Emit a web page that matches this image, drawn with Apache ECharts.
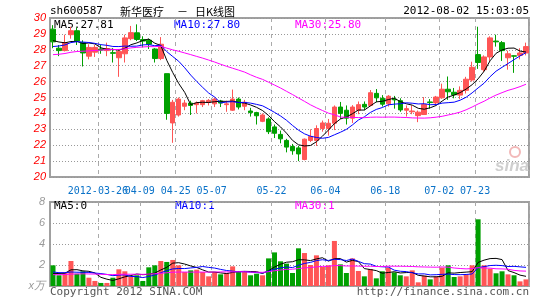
<!DOCTYPE html>
<html>
<head>
<meta charset="utf-8">
<script src="https://cdn.jsdelivr.net/npm/echarts@6/dist/echarts.min.js"></script>
<style>
html,body{margin:0;padding:0;background:#fff;}
#c{width:545px;height:300px;}
</style>
</head>
<body>
<div id="c"></div>
<script>
// ---- data ----
const dates = ['2012-03-14','2012-03-15','2012-03-16','2012-03-19','2012-03-20','2012-03-21','2012-03-22','2012-03-23','2012-03-26','2012-03-27',
'2012-03-28','2012-03-29','2012-03-30','2012-04-05','2012-04-06','2012-04-09','2012-04-10','2012-04-11','2012-04-12','2012-04-23',
'2012-04-24','2012-04-25','2012-04-26','2012-04-27','2012-05-02','2012-05-03','2012-05-04','2012-05-07','2012-05-08','2012-05-09',
'2012-05-10','2012-05-11','2012-05-14','2012-05-15','2012-05-16','2012-05-17','2012-05-21','2012-05-22','2012-05-23','2012-05-24',
'2012-05-25','2012-05-28','2012-05-29','2012-05-30','2012-05-31','2012-06-01','2012-06-04','2012-06-05','2012-06-06','2012-06-07',
'2012-06-08','2012-06-11','2012-06-12','2012-06-13','2012-06-14','2012-06-15','2012-06-18','2012-06-19','2012-06-20','2012-06-21',
'2012-06-25','2012-06-26','2012-06-27','2012-06-28','2012-06-29','2012-07-02','2012-07-16','2012-07-17','2012-07-18','2012-07-19',
'2012-07-20','2012-07-23','2012-07-24','2012-07-25','2012-07-26','2012-07-27','2012-07-30','2012-07-31','2012-08-01','2012-08-02'];

const openP = [29.3,28.1,27.95,28.95,29.2,28.45,27.6,27.85,28.05,27.95,
27.82,27.5,27.75,28.7,29.07,28.65,28.6,28.05,27.45,26.5,
23.4,23.9,24.45,24.65,24.55,24.55,24.7,24.6,24.78,24.55,
24.2,24.9,24.45,24.15,24.05,23.5,23.65,23.15,22.68,22.3,
21.92,21.83,21.1,22.3,22.3,23.05,23.05,23.38,24.4,24.2,
23.7,24.2,24.57,24.5,25.26,24.95,24.6,24.9,24.8,24.2,
24.1,23.86,23.93,24.72,24.66,24.98,25.52,25.33,25.15,25.45,
26.1,27.7,26.75,27.55,28.55,28.45,27.5,27.62,27.65,27.8];
const closeP = [28.5,27.95,28.45,29.2,28.55,27.8,28.15,28.15,27.98,28.08,
27.78,27.9,28.75,29.08,28.65,28.55,28.35,27.45,28.35,24.0,
24.7,24.9,24.65,24.5,24.65,24.8,24.82,24.9,24.65,24.6,
24.9,24.4,24.7,24.05,23.85,23.9,22.85,22.75,22.4,21.88,
21.65,21.45,22.38,22.55,23.05,23.4,23.38,24.4,24.0,23.7,
24.4,24.55,24.4,25.3,24.98,24.58,25.08,24.85,24.22,24.3,
24.15,24.08,24.56,24.68,25.03,25.52,25.36,25.17,25.45,26.15,
26.9,27.2,27.55,28.75,28.5,27.95,27.75,27.6,27.8,28.2];
const lowP = [28.1,27.6,27.9,28.7,28.3,26.95,27.4,27.55,27.75,27.6,
27.2,26.3,27.2,28.6,28.55,28.15,28.05,27.2,27.35,23.6,
22.15,23.8,24.2,23.9,24.0,24.4,24.5,24.4,24.4,24.1,
24.15,24.25,24.2,23.8,23.3,23.45,22.7,22.45,22.12,21.55,
21.4,21.0,21.05,22.2,21.95,22.85,22.6,22.95,23.65,23.3,
23.4,23.95,24.2,24.45,24.7,24.43,24.43,24.3,24.1,23.8,
23.95,23.45,23.9,24.3,24.55,24.92,24.85,24.95,24.9,25.25,
26.0,26.8,26.6,27.3,28.2,27.3,26.75,26.55,27.4,27.65];
const highP = [29.55,28.3,28.95,29.45,29.4,28.6,28.35,28.3,28.3,28.45,
28.1,28.05,28.95,29.5,29.6,28.85,28.7,28.1,28.8,26.5,
24.85,25.0,24.85,24.8,24.75,24.85,24.9,25.0,24.85,24.8,
25.5,25.0,24.85,24.35,24.1,24.0,23.75,23.3,22.92,22.4,
22.08,21.95,22.42,23.0,23.25,23.55,23.65,24.5,24.72,24.5,
24.52,24.75,24.75,25.47,25.53,25.15,25.15,25.1,24.95,24.5,
24.5,24.18,25.03,24.9,25.1,25.87,26.32,25.6,25.7,26.3,
27.25,29.45,27.65,28.85,28.95,28.55,27.95,27.65,28.1,28.45];
// volume, in 万 (10k lots)
const volume = [1.97,1.02,1.24,2.38,1.17,1.40,0.79,0.48,0.29,0.29,
0.79,1.59,1.40,0.90,1.02,0.48,1.78,1.97,2.38,2.29,
2.48,1.97,1.33,1.49,1.56,1.33,0.92,1.33,1.11,1.24,
1.87,1.33,1.43,1.02,1.17,1.02,2.63,3.20,2.35,2.13,
1.24,3.59,3.14,2.00,2.92,1.81,1.97,4.29,2.06,1.24,
2.63,1.43,0.92,1.62,0.73,1.40,1.75,1.30,1.02,0.92,
1.49,0.35,0.98,0.63,0.92,1.75,1.97,0.86,0.92,1.11,
1.97,6.35,1.97,1.65,1.21,1.40,1.11,1.02,0.44,0.63];
// estimated closes/volumes before the visible window (only used so MA lines start at the left edge as in the picture)
const priorCloses = [27.2,27.0,26.9,27.1,27.3,27.5,27.4,27.2,27.3,27.6,27.7,27.5,27.4,27.6,27.8,27.7,27.6,27.5,27.6,27.9,
27.6,27.8,27.7,28.0,28.05,28.4,28.7,28.8,28.5];
const priorVolumes = [0.9,1.1,0.8,1.0,0.9,1.2,0.8,0.9,1.0,1.1,0.9,0.8,1.0,1.0,0.9,1.1,0.9,1.0,0.9,0.8,
1.6,1.3,1.7,1.4,1.45,0.9,1.1,0.8,1.08];
const labelIdx = [8,15,21,27,37,46,56,65,71];
const priceTicks = {min:20, max:30, step:1};
const volTicks = {min:0, max:8, step:2};

// ---- build ----
function ma(prior, vals, n){
  const all = prior.concat(vals), off = prior.length, out = [];
  for (let i=0;i<vals.length;i++){
    let s=0; for(let j=off+i-n+1;j<=off+i;j++) s+=all[j];
    out.push(+(s/n).toFixed(3));
  }
  return out;
}
const UP='#ff5555', DOWN='#00a000';
const kdata = dates.map((d,i)=>[openP[i],closeP[i],lowP[i],highP[i]]);
const vdata = volume.map((v,i)=>({value:v,itemStyle:{color: closeP[i]>=openP[i]?UP:DOWN}}));
const showIdx = (i)=>labelIdx.indexOf(i)>=0;
const MONO='"DejaVu Sans Mono","Liberation Mono",monospace';
const dashed = {show:true, interval:(i)=>showIdx(i), lineStyle:{color:'#aaa', type:[4,4], width:1}};
const dotted = {show:true, lineStyle:{color:'#999', type:[1,2], width:1}};
const xLabelBase = {hideOverlap:false, color:'#0a72c8', fontFamily:MONO, fontSize:10, margin:9, padding:[0,6,0,0]};

const chart = echarts.init(document.getElementById('c'), null, {renderer:'canvas'});
const t = (x,y,text,color,extra)=>Object.assign({type:'text', x:x, y:y, style:Object.assign({text:text, fill:color, font:'11px '+MONO, textVerticalAlign:'middle'}, extra||{})});
chart.setOption({
  animation:false,
  backgroundColor:'#fff',
  grid:[
    {left:50, top:18, width:479, height:159, show:true, borderColor:'#a0a0a0', borderWidth:2, backgroundColor:'transparent'},
    {left:50, top:202, width:479, height:84, show:true, borderColor:'#a0a0a0', borderWidth:2, backgroundColor:'transparent'}
  ],
  xAxis:[
    {type:'category', gridIndex:0, data:dates, boundaryGap:true,
     axisLine:{show:false}, axisTick:{show:false},
     axisLabel:Object.assign({interval:(i)=>i!==labelIdx[0] && showIdx(i), formatter:(v)=>v.slice(5)}, xLabelBase),
     splitLine:dashed},
    {type:'category', gridIndex:1, data:dates, boundaryGap:true,
     axisLine:{show:false}, axisTick:{show:false}, axisLabel:{show:false}, splitLine:dashed},
    {type:'category', gridIndex:0, position:'bottom', data:dates, boundaryGap:true,
     axisLine:{show:false}, axisTick:{show:false}, splitLine:{show:false},
     axisLabel:Object.assign({interval:(i)=>i===labelIdx[0]}, xLabelBase)}
  ],
  yAxis:[
    {type:'value', gridIndex:0, min:priceTicks.min, max:priceTicks.max, interval:priceTicks.step,
     axisLine:{show:false}, axisTick:{show:false},
     axisLabel:{color:'#ff0000', fontFamily:'"Liberation Sans",Arial,sans-serif', fontStyle:'italic', fontSize:11, margin:4},
     splitLine:dotted},
    {type:'value', gridIndex:1, min:volTicks.min, max:volTicks.max, interval:volTicks.step,
     axisLine:{show:false}, axisTick:{show:false},
     axisLabel:{color:'#999', fontFamily:'"Liberation Sans",Arial,sans-serif', fontStyle:'italic', fontSize:11, margin:5,
       formatter:(v)=> v===0 ? 'x万' : v},
     splitLine:dotted}
  ],
  series:[
    {type:'candlestick', xAxisIndex:0, yAxisIndex:0, data:kdata, barWidth:5, z:2,
     itemStyle:{color:UP, color0:DOWN, borderColor:UP, borderColor0:DOWN, borderWidth:1}},
    {type:'line', xAxisIndex:0, yAxisIndex:0, data:ma(priorCloses,closeP,5), symbol:'none', z:3, lineStyle:{color:'#000', width:1}},
    {type:'line', xAxisIndex:0, yAxisIndex:0, data:ma(priorCloses,closeP,10), symbol:'none', z:3, lineStyle:{color:'#0000ff', width:1}},
    {type:'line', xAxisIndex:0, yAxisIndex:0, data:ma(priorCloses,closeP,30), symbol:'none', z:3, lineStyle:{color:'#ff00ff', width:1}},
    {type:'bar', xAxisIndex:1, yAxisIndex:1, data:vdata, barWidth:5, z:2},
    {type:'line', xAxisIndex:1, yAxisIndex:1, data:ma(priorVolumes,volume,5), symbol:'none', z:3, lineStyle:{color:'#000', width:1}},
    {type:'line', xAxisIndex:1, yAxisIndex:1, data:ma(priorVolumes,volume,10), symbol:'none', z:3, lineStyle:{color:'#0000ff', width:1}},
    {type:'line', xAxisIndex:1, yAxisIndex:1, data:ma(priorVolumes,volume,30), symbol:'none', z:3, lineStyle:{color:'#ff00ff', width:1}}
  ],
  graphic:[
    t(50,11.5,'sh600587','#000'),
    t(120,11.5,'新华医疗','#000',{font:'11px "Noto Sans CJK SC",sans-serif'}),
    t(177,11.5,'－','#000',{font:'11px "Noto Sans CJK SC",sans-serif'}),
    t(195,11.5,'日K线图','#000',{font:'11px "Noto Sans CJK SC",sans-serif'}),
    t(529,11.5,'2012-08-02 15:03:05','#000',{textAlign:'right'}),
    t(54,25,'MA5:27.81','#000'),
    t(174,25,'MA10:27.80','#0000ff'),
    t(295,25,'MA30:25.80','#ff00ff'),
    t(54,206,'MA5:0','#000'),
    t(175,206,'MA10:1','#0000ff'),
    t(295,206,'MA30:1','#ff00ff'),
    t(50,292.5,'Copyright 2012 SINA.COM','#555'),
    t(529,292.5,'http://finance.sina.com.cn','#555',{textAlign:'right'}),
    {type:'circle', shape:{cx:515, cy:152, r:5}, style:{fill:'none', stroke:'#f2b8b8', lineWidth:2}, z:1},
    t(512,166,'sina','#cfcfcf',{font:'italic bold 17px "Liberation Sans",Arial,sans-serif', textAlign:'center'})
  ]
});
</script>
</body>
</html>
